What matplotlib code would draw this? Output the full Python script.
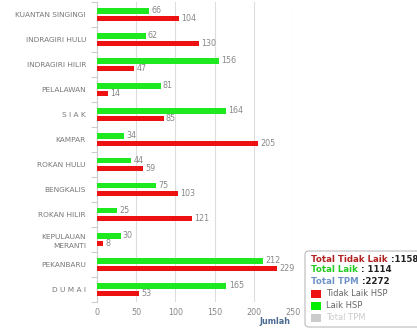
import numpy as np
import matplotlib.pyplot as plt
from matplotlib.patches import FancyBboxPatch, Rectangle

# data per kabupaten / kota
wilayah = ['KUANTAN SINGINGI', 'INDRAGIRI HULU', 'INDRAGIRI HILIR', 'PELALAWAN',
           'S I A K', 'KAMPAR', 'ROKAN HULU', 'BENGKALIS', 'ROKAN HILIR',
           'KEPULAUAN\nMERANTI', 'PEKANBARU', 'D U M A I']
laik = [66, 62, 156, 81, 164, 34, 44, 75, 25, 30, 212, 165]
tidak_laik = [104, 130, 47, 14, 85, 205, 59, 103, 121, 8, 229, 53]
x_ticks = [0, 50, 100, 150, 200, 250]

GREEN = '#1ee81e'
RED = '#ee1111'
GREY = '#888888'

fig = plt.figure(figsize=(4.17, 3.28), dpi=100)
ax = fig.add_axes([97 / 417, 26 / 328, 196 / 417, 300 / 328])

n = len(wilayah)
y = np.arange(n)
h = 0.22
ax.barh(y - 0.15, laik, height=h, color=GREEN, zorder=3)
ax.barh(y + 0.15, tidak_laik, height=h, color=RED, zorder=3)

for i in range(n):
    ax.text(laik[i] + 3, y[i] - 0.15, str(laik[i]), va='center', ha='left',
            fontsize=5.8, color=GREY)
    ax.text(tidak_laik[i] + 3, y[i] + 0.15, str(tidak_laik[i]), va='center', ha='left',
            fontsize=5.8, color=GREY)

ax.set_ylim(n - 0.5, -0.5)
ax.set_xlim(0, 250)
ax.set_yticks(y)
ax.set_yticklabels(wilayah, fontsize=5.3, color='#777777', linespacing=1.6)
ax.set_yticks(np.arange(n + 1) - 0.5, minor=True)
ax.tick_params(axis='y', which='major', length=0, pad=8)
ax.tick_params(axis='y', which='minor', length=4, color='#cccccc', width=0.8)
ax.set_xticks(x_ticks)
ax.set_xticklabels([str(v) for v in x_ticks], fontsize=5.8, color=GREY)
ax.tick_params(axis='x', length=0, pad=4)
ax.xaxis.grid(True, color='#dddddd', linewidth=0.8, zorder=0)

for s in ['top', 'right', 'bottom']:
    ax.spines[s].set_visible(False)
ax.spines['left'].set_color('#cccccc')
ax.spines['left'].set_linewidth(0.8)

fig.text(275 / 417, 1 - 322 / 328, 'Jumlah', fontsize=5.8, fontweight='bold',
         color='#4a6a90', ha='center', va='center')

# kotak keterangan
box = FancyBboxPatch((305 / 417, 1 - 327 / 328), 120 / 417, 76 / 328,
                     boxstyle='round,pad=0,rounding_size=0.01',
                     transform=fig.transFigure, facecolor='white',
                     edgecolor='#bbbbbb', linewidth=0.8)
fig.patches.append(box)

tot_tl = sum(tidak_laik)
tot_l = sum(laik)
tot = tot_tl + tot_l
tx = 311 / 417
rows = [('Total Tidak Laik', ' :%d' % tot_tl, '#b22222', 259),
        ('Total Laik', ' : %d' % tot_l, '#22cc22', 270),
        ('Total TPM', ' :%d' % tot, '#6f93c6', 281)]
for label, val, c, yy in rows:
    t = fig.text(tx, 1 - yy / 328, label, fontsize=6.2, fontweight='bold',
                 color=c, va='center', ha='left')
    fig.canvas.draw()
    bb = t.get_window_extent()
    fig.text(bb.x1 / fig.bbox.width, 1 - yy / 328, val, fontsize=6.2,
             fontweight='bold', color='#222222', va='center', ha='left')

items = [('Tidak Laik HSP', RED, '#666666', 294),
         ('Laik HSP', '#00ee00', '#666666', 306),
         ('Total TPM', '#cccccc', '#cccccc', 318)]
for label, fc, tc, yy in items:
    fig.patches.append(Rectangle((311 / 417, 1 - (yy + 4) / 328), 10 / 417, 8 / 328,
                                 transform=fig.transFigure, facecolor=fc,
                                 edgecolor='none'))
    fig.text(326 / 417, 1 - yy / 328, label, fontsize=6, color=tc,
             va='center', ha='left')

fig.savefig('out.png', dpi=100)
